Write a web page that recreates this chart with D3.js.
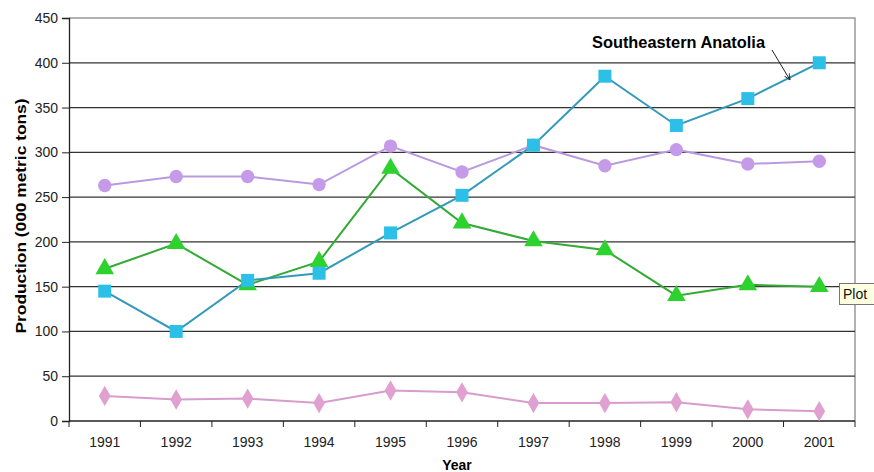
<!DOCTYPE html>
<html><head><meta charset="utf-8">
<script src="https://cdn.jsdelivr.net/npm/d3@7"></script>
<style>body{margin:0;background:#fff}svg{display:block}text{font-family:"Liberation Sans",Arial,sans-serif}</style>
</head><body><svg id="c" width="874" height="472"></svg>
<script>
const years = ["1991","1992","1993","1994","1995","1996","1997","1998","1999","2000","2001"];
const seAnatolia = [145,100,157,165,210,252,308,385,330,360,400];
const purpleSeries = [263,273,273,264,307,278,308,285,303,287,290];
const greenSeries = [170,198,152,178,282,221,201,191,140,152,150];
const pinkSeries = [28,24,25,20,34,32,20,20,21,13,11];
const yTicks = [0,50,100,150,200,250,300,350,400,450];

const svg = d3.select("#c");
const L=69, R=855, T=18, B=421;
const x = d3.scaleBand().domain(years).range([L,R]);
const y = d3.scaleLinear().domain([0,450]).range([B,T]);

// plot border (top/right)
svg.append("path").attr("d",`M${L},${T}H${R}V${B}`).attr("fill","none").attr("stroke","#999").attr("stroke-width",1.5);
// gridlines
svg.append("g").selectAll("line").data(yTicks.filter(d=>d>0 && d<450)).join("line")
  .attr("x1",L).attr("x2",R).attr("y1",d=>y(d)).attr("y2",d=>y(d))
  .attr("stroke","#333").attr("stroke-width",1.3);

// axes
const ya = svg.append("g").attr("transform",`translate(${L},0)`)
  .call(d3.axisLeft(y).tickValues(yTicks).tickSize(7).tickPadding(4));
ya.select(".domain").attr("stroke","#222").attr("stroke-width",1.3);
ya.selectAll("text").attr("font-size",14).attr("fill","#222");
ya.selectAll(".tick line").attr("stroke","#222");

const xa = svg.append("g").attr("transform",`translate(0,${B})`);
xa.append("line").attr("x1",L).attr("x2",R).attr("y1",0).attr("y2",0).attr("stroke","#222").attr("stroke-width",1.3);
const bounds = years.map((d)=>x(d)).concat([R]);
xa.selectAll("line.t").data(bounds).join("line").attr("class","t")
  .attr("x1",d=>d).attr("x2",d=>d).attr("y1",0).attr("y2",6).attr("stroke","#222");
xa.selectAll("text").data(years).join("text")
  .attr("x",d=>x(d)+x.bandwidth()/2).attr("y",26).attr("text-anchor","middle")
  .attr("font-size",14).attr("fill","#222").text(d=>d);

svg.append("text").attr("x",457).attr("y",470).attr("text-anchor","middle")
  .attr("font-size",14).attr("font-weight","bold").text("Year");
svg.append("text").attr("transform","translate(26,216) rotate(-90)").attr("text-anchor","middle")
  .attr("font-size",14).attr("font-weight","bold")
  .attr("textLength",235).attr("lengthAdjust","spacingAndGlyphs").text("Production (000 metric tons)");

const cx = d=>x(d)+x.bandwidth()/2;
const series = [
  {v:pinkSeries, line:"#d79ccc", fill:"#e0a0d0", sym:d3.symbolDiamond, size:120},
  {v:purpleSeries, line:"#b99ae0", fill:"#c59ae8", sym:d3.symbolCircle, size:140},
  {v:greenSeries, line:"#33aa33", fill:"#2ed22e", sym:d3.symbolTriangle, size:150},
  {v:seAnatolia, line:"#3399bb", fill:"#2cc0e8", sym:d3.symbolSquare, size:169}
];
series.forEach(s=>{
  const pts = years.map((yr,i)=>[cx(yr), y(s.v[i])]);
  svg.append("path").attr("d",d3.line()(pts)).attr("fill","none").attr("stroke",s.line).attr("stroke-width",2);
  svg.append("g").selectAll("path").data(pts).join("path")
    .attr("transform",p=>`translate(${p[0]},${p[1]})`)
    .attr("d",d3.symbol(s.sym,s.size)).attr("fill",s.fill);
});

// annotation
svg.append("text").attr("x",592).attr("y",48).attr("font-size",16).attr("font-weight","bold")
  .attr("textLength",173).attr("lengthAdjust","spacingAndGlyphs").text("Southeastern Anatolia");
svg.append("defs").append("marker").attr("id","ah").attr("viewBox","0 0 10 10").attr("refX",9).attr("refY",5)
  .attr("markerWidth",7).attr("markerHeight",7).attr("orient","auto")
  .append("path").attr("d","M0,1L9,5L0,9").attr("fill","none").attr("stroke","#222").attr("stroke-width",1.2);
svg.append("line").attr("x1",772).attr("y1",50).attr("x2",790).attr("y2",80).attr("stroke","#222").attr("stroke-width",1).attr("marker-end","url(#ah)");

// tooltip box
svg.append("rect").attr("x",839.5).attr("y",283.5).attr("width",45).attr("height",21).attr("fill","#ffffe1").attr("stroke","#777");
svg.append("text").attr("x",843).attr("y",299).attr("font-size",14).attr("fill","#111").text("Plot");
</script></body></html>
